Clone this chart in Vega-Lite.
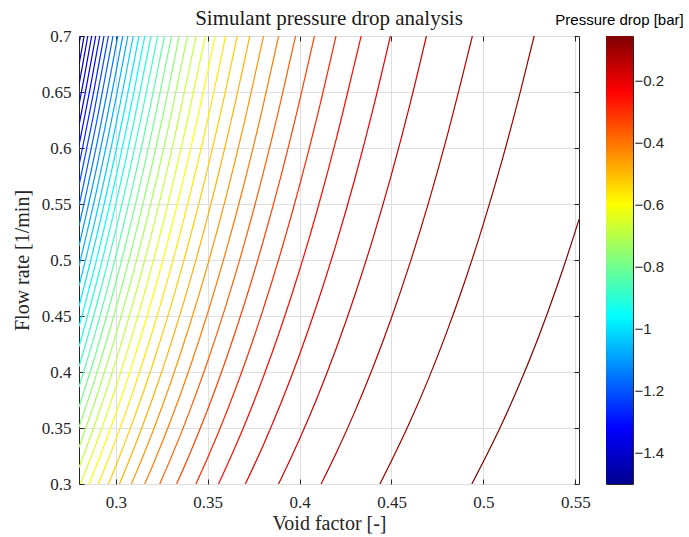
{
  "$schema": "https://vega.github.io/schema/vega-lite/v6.json",
  "autosize": {"type": "pad"},
  "padding": {"left": 11, "top": 7, "right": 4, "bottom": 1},
  "background": "white",
  "bounds": "flush",
  "spacing": 27,
  "config": {
    "view": {"stroke": "#262626", "strokeWidth": 1},
    "font": "Liberation Serif"
  },
  "hconcat": [
    {
      "width": 500,
      "height": 448,
      "title": {
        "text": "Simulant pressure drop analysis",
        "font": "Liberation Serif",
        "fontSize": 21,
        "fontWeight": "normal",
        "color": "#1a1a1a",
        "anchor": "middle",
        "frame": "group",
        "offset": -2
      },
      "data": {
        "values": [
          {"e":0.4937,"q":0.3,"p":-0.0575},{"e":0.50,"q":0.32,"p":-0.0575},{"e":0.51,"q":0.3536,"p":-0.0575},{"e":0.52,"q":0.3906,"p":-0.0575},{"e":0.53,"q":0.4313,"p":-0.0575},{"e":0.54,"q":0.4763,"p":-0.0575},{"e":0.55,"q":0.5258,"p":-0.0575},{"e":0.552,"q":0.5363,"p":-0.0575},
          {"e":0.4437,"q":0.3,"p":-0.0965},{"e":0.45,"q":0.3207,"p":-0.0965},{"e":0.46,"q":0.3553,"p":-0.0965},{"e":0.47,"q":0.3934,"p":-0.0965},{"e":0.48,"q":0.4354,"p":-0.0965},{"e":0.49,"q":0.4815,"p":-0.0965},{"e":0.50,"q":0.5323,"p":-0.0965},{"e":0.51,"q":0.5881,"p":-0.0965},{"e":0.52,"q":0.6496,"p":-0.0965},{"e":0.5276,"q":0.7,"p":-0.0965},
          {"e":0.4117,"q":0.3,"p":-0.1355},{"e":0.42,"q":0.3279,"p":-0.1355},{"e":0.43,"q":0.3644,"p":-0.1355},{"e":0.44,"q":0.4045,"p":-0.1355},{"e":0.45,"q":0.4485,"p":-0.1355},{"e":0.46,"q":0.4970,"p":-0.1355},{"e":0.47,"q":0.5503,"p":-0.1355},{"e":0.48,"q":0.6090,"p":-0.1355},{"e":0.49,"q":0.6735,"p":-0.1355},{"e":0.4940,"q":0.7,"p":-0.1355},
          {"e":0.3885,"q":0.3,"p":-0.1744},{"e":0.39,"q":0.3050,"p":-0.1744},{"e":0.40,"q":0.3402,"p":-0.1744},{"e":0.41,"q":0.3788,"p":-0.1744},{"e":0.42,"q":0.4214,"p":-0.1744},{"e":0.43,"q":0.4683,"p":-0.1744},{"e":0.44,"q":0.5198,"p":-0.1744},{"e":0.45,"q":0.5764,"p":-0.1744},{"e":0.46,"q":0.6387,"p":-0.1744},{"e":0.4690,"q":0.7,"p":-0.1744},
          {"e":0.3705,"q":0.3,"p":-0.2134},{"e":0.38,"q":0.3338,"p":-0.2134},{"e":0.39,"q":0.3727,"p":-0.2134},{"e":0.40,"q":0.4156,"p":-0.2134},{"e":0.41,"q":0.4629,"p":-0.2134},{"e":0.42,"q":0.5149,"p":-0.2134},{"e":0.43,"q":0.5721,"p":-0.2134},{"e":0.44,"q":0.6351,"p":-0.2134},{"e":0.4494,"q":0.7,"p":-0.2134},
          {"e":0.3559,"q":0.3,"p":-0.2524},{"e":0.36,"q":0.3147,"p":-0.2524},{"e":0.37,"q":0.3525,"p":-0.2524},{"e":0.38,"q":0.3944,"p":-0.2524},{"e":0.39,"q":0.4404,"p":-0.2524},{"e":0.40,"q":0.4911,"p":-0.2524},{"e":0.41,"q":0.5469,"p":-0.2524},{"e":0.42,"q":0.6084,"p":-0.2524},{"e":0.43,"q":0.6760,"p":-0.2524},{"e":0.4335,"q":0.7,"p":-0.2524},
          {"e":0.3436,"q":0.3,"p":-0.2914},{"e":0.35,"q":0.3234,"p":-0.2914},{"e":0.36,"q":0.3630,"p":-0.2914},{"e":0.37,"q":0.4067,"p":-0.2914},{"e":0.38,"q":0.4550,"p":-0.2914},{"e":0.39,"q":0.5081,"p":-0.2914},{"e":0.40,"q":0.5666,"p":-0.2914},{"e":0.41,"q":0.6310,"p":-0.2914},{"e":0.4198,"q":0.7,"p":-0.2914},
          {"e":0.3331,"q":0.3,"p":-0.3304},{"e":0.34,"q":0.3259,"p":-0.3304},{"e":0.35,"q":0.3665,"p":-0.3304},{"e":0.36,"q":0.4114,"p":-0.3304},{"e":0.37,"q":0.4609,"p":-0.3304},{"e":0.38,"q":0.5156,"p":-0.3304},{"e":0.39,"q":0.5757,"p":-0.3304},{"e":0.40,"q":0.6420,"p":-0.3304},{"e":0.4081,"q":0.7,"p":-0.3304},
          {"e":0.3239,"q":0.3,"p":-0.3693},{"e":0.33,"q":0.3231,"p":-0.3693},{"e":0.34,"q":0.3642,"p":-0.3693},{"e":0.35,"q":0.4096,"p":-0.3693},{"e":0.36,"q":0.4597,"p":-0.3693},{"e":0.37,"q":0.5151,"p":-0.3693},{"e":0.38,"q":0.5762,"p":-0.3693},{"e":0.39,"q":0.6434,"p":-0.3693},{"e":0.3978,"q":0.7,"p":-0.3693},
          {"e":0.3158,"q":0.3,"p":-0.4083},{"e":0.32,"q":0.3161,"p":-0.4083},{"e":0.33,"q":0.3571,"p":-0.4083},{"e":0.34,"q":0.4025,"p":-0.4083},{"e":0.35,"q":0.4527,"p":-0.4083},{"e":0.36,"q":0.5081,"p":-0.4083},{"e":0.37,"q":0.5692,"p":-0.4083},{"e":0.38,"q":0.6368,"p":-0.4083},{"e":0.3886,"q":0.7,"p":-0.4083},
          {"e":0.3085,"q":0.3,"p":-0.4473},{"e":0.31,"q":0.3057,"p":-0.4473},{"e":0.32,"q":0.3462,"p":-0.4473},{"e":0.33,"q":0.3911,"p":-0.4473},{"e":0.34,"q":0.4408,"p":-0.4473},{"e":0.35,"q":0.4957,"p":-0.4473},{"e":0.36,"q":0.5564,"p":-0.4473},{"e":0.37,"q":0.6234,"p":-0.4473},{"e":0.3804,"q":0.7,"p":-0.4473},
          {"e":0.3020,"q":0.3,"p":-0.4863},{"e":0.31,"q":0.3322,"p":-0.4863},{"e":0.32,"q":0.3763,"p":-0.4863},{"e":0.33,"q":0.4251,"p":-0.4863},{"e":0.34,"q":0.4791,"p":-0.4863},{"e":0.35,"q":0.5388,"p":-0.4863},{"e":0.36,"q":0.6048,"p":-0.4863},{"e":0.37,"q":0.6776,"p":-0.4863},{"e":0.3729,"q":0.7,"p":-0.4863},
          {"e":0.2960,"q":0.3,"p":-0.5253},{"e":0.30,"q":0.3160,"p":-0.5253},{"e":0.31,"q":0.3588,"p":-0.5253},{"e":0.32,"q":0.4063,"p":-0.5253},{"e":0.33,"q":0.4591,"p":-0.5253},{"e":0.34,"q":0.5174,"p":-0.5253},{"e":0.35,"q":0.5819,"p":-0.5253},{"e":0.36,"q":0.6531,"p":-0.5253},{"e":0.3661,"q":0.7,"p":-0.5253},
          {"e":0.2905,"q":0.3,"p":-0.5642},{"e":0.30,"q":0.3394,"p":-0.5642},{"e":0.31,"q":0.3854,"p":-0.5642},{"e":0.32,"q":0.4364,"p":-0.5642},{"e":0.33,"q":0.4930,"p":-0.5642},{"e":0.34,"q":0.5557,"p":-0.5642},{"e":0.35,"q":0.6250,"p":-0.5642},{"e":0.3598,"q":0.7,"p":-0.5642},
          {"e":0.2855,"q":0.3,"p":-0.6032},{"e":0.29,"q":0.3185,"p":-0.6032},{"e":0.30,"q":0.3627,"p":-0.6032},{"e":0.31,"q":0.4119,"p":-0.6032},{"e":0.32,"q":0.4665,"p":-0.6032},{"e":0.33,"q":0.5270,"p":-0.6032},{"e":0.34,"q":0.5940,"p":-0.6032},{"e":0.35,"q":0.6681,"p":-0.6032},{"e":0.3541,"q":0.7,"p":-0.6032},
          {"e":0.2808,"q":0.3,"p":-0.6422},{"e":0.29,"q":0.3390,"p":-0.6422},{"e":0.30,"q":0.3861,"p":-0.6422},{"e":0.31,"q":0.4385,"p":-0.6422},{"e":0.32,"q":0.4966,"p":-0.6422},{"e":0.33,"q":0.5610,"p":-0.6422},{"e":0.34,"q":0.6323,"p":-0.6422},{"e":0.3487,"q":0.7,"p":-0.6422},
          {"e":0.28,"q":0.3147,"p":-0.6812},{"e":0.29,"q":0.3596,"p":-0.6812},{"e":0.30,"q":0.4095,"p":-0.6812},{"e":0.31,"q":0.4651,"p":-0.6812},{"e":0.32,"q":0.5267,"p":-0.6812},{"e":0.33,"q":0.5950,"p":-0.6812},{"e":0.34,"q":0.6706,"p":-0.6812},{"e":0.3437,"q":0.7,"p":-0.6812},
          {"e":0.28,"q":0.3327,"p":-0.7202},{"e":0.29,"q":0.3801,"p":-0.7202},{"e":0.30,"q":0.4329,"p":-0.7202},{"e":0.31,"q":0.4916,"p":-0.7202},{"e":0.32,"q":0.5568,"p":-0.7202},{"e":0.33,"q":0.6290,"p":-0.7202},{"e":0.3390,"q":0.7,"p":-0.7202},
          {"e":0.28,"q":0.3507,"p":-0.7591},{"e":0.29,"q":0.4006,"p":-0.7591},{"e":0.30,"q":0.4563,"p":-0.7591},{"e":0.31,"q":0.5182,"p":-0.7591},{"e":0.32,"q":0.5868,"p":-0.7591},{"e":0.33,"q":0.6630,"p":-0.7591},{"e":0.3345,"q":0.7,"p":-0.7591},
          {"e":0.28,"q":0.3687,"p":-0.7981},{"e":0.29,"q":0.4212,"p":-0.7981},{"e":0.30,"q":0.4797,"p":-0.7981},{"e":0.31,"q":0.5447,"p":-0.7981},{"e":0.32,"q":0.6169,"p":-0.7981},{"e":0.33,"q":0.6969,"p":-0.7981},{"e":0.3304,"q":0.7,"p":-0.7981},
          {"e":0.28,"q":0.3866,"p":-0.8371},{"e":0.29,"q":0.4417,"p":-0.8371},{"e":0.30,"q":0.5031,"p":-0.8371},{"e":0.31,"q":0.5713,"p":-0.8371},{"e":0.32,"q":0.6470,"p":-0.8371},{"e":0.3265,"q":0.7,"p":-0.8371},
          {"e":0.28,"q":0.4046,"p":-0.8761},{"e":0.29,"q":0.4623,"p":-0.8761},{"e":0.30,"q":0.5265,"p":-0.8761},{"e":0.31,"q":0.5979,"p":-0.8761},{"e":0.32,"q":0.6771,"p":-0.8761},{"e":0.3228,"q":0.7,"p":-0.8761},
          {"e":0.28,"q":0.4226,"p":-0.9151},{"e":0.29,"q":0.4828,"p":-0.9151},{"e":0.30,"q":0.5499,"p":-0.9151},{"e":0.31,"q":0.6244,"p":-0.9151},{"e":0.3192,"q":0.7,"p":-0.9151},
          {"e":0.28,"q":0.4406,"p":-0.9540},{"e":0.29,"q":0.5033,"p":-0.9540},{"e":0.30,"q":0.5733,"p":-0.9540},{"e":0.31,"q":0.6510,"p":-0.9540},{"e":0.3158,"q":0.7,"p":-0.9540},
          {"e":0.28,"q":0.4585,"p":-0.9930},{"e":0.29,"q":0.5239,"p":-0.9930},{"e":0.30,"q":0.5967,"p":-0.9930},{"e":0.31,"q":0.6776,"p":-0.9930},{"e":0.3126,"q":0.7,"p":-0.9930},
          {"e":0.28,"q":0.4765,"p":-1.0320},{"e":0.29,"q":0.5444,"p":-1.0320},{"e":0.30,"q":0.6200,"p":-1.0320},{"e":0.3095,"q":0.7,"p":-1.0320},
          {"e":0.28,"q":0.4945,"p":-1.0710},{"e":0.29,"q":0.5650,"p":-1.0710},{"e":0.30,"q":0.6434,"p":-1.0710},{"e":0.3066,"q":0.7,"p":-1.0710},
          {"e":0.28,"q":0.5125,"p":-1.1100},{"e":0.29,"q":0.5855,"p":-1.1100},{"e":0.30,"q":0.6668,"p":-1.1100},{"e":0.3038,"q":0.7,"p":-1.1100},
          {"e":0.28,"q":0.5304,"p":-1.1489},{"e":0.29,"q":0.6060,"p":-1.1489},{"e":0.30,"q":0.6902,"p":-1.1489},{"e":0.3011,"q":0.7,"p":-1.1489},
          {"e":0.28,"q":0.5484,"p":-1.1879},{"e":0.29,"q":0.6266,"p":-1.1879},{"e":0.2985,"q":0.7,"p":-1.1879},
          {"e":0.28,"q":0.5664,"p":-1.2269},{"e":0.288,"q":0.6302,"p":-1.2269},{"e":0.2960,"q":0.7,"p":-1.2269},
          {"e":0.28,"q":0.5844,"p":-1.2659},{"e":0.288,"q":0.6502,"p":-1.2659},{"e":0.2936,"q":0.7,"p":-1.2659},
          {"e":0.28,"q":0.6023,"p":-1.3049},{"e":0.286,"q":0.6527,"p":-1.3049},{"e":0.2913,"q":0.7,"p":-1.3049},
          {"e":0.28,"q":0.6203,"p":-1.3438},{"e":0.284,"q":0.6545,"p":-1.3438},{"e":0.2891,"q":0.7,"p":-1.3438},
          {"e":0.28,"q":0.6383,"p":-1.3828},{"e":0.284,"q":0.6735,"p":-1.3828},{"e":0.2869,"q":0.7,"p":-1.3828},
          {"e":0.28,"q":0.6563,"p":-1.4218},{"e":0.2848,"q":0.7,"p":-1.4218},
          {"e":0.28,"q":0.6742,"p":-1.4608},{"e":0.2828,"q":0.7,"p":-1.4608},
          {"e":0.28,"q":0.6922,"p":-1.4998},{"e":0.2808,"q":0.7,"p":-1.4998}
        ]
      },
      "layer": [
        {
          "mark": {"type": "line", "interpolate": "monotone", "strokeWidth": 1.2, "clip": true},
          "encoding": {
            "x": {
              "field": "e", "type": "quantitative",
              "scale": {"domain": [0.28, 0.552], "nice": false, "zero": false},
              "axis": {
                "values": [0.3, 0.35, 0.4, 0.45, 0.5, 0.55],
                "format": ".2~f",
                "title": "Void factor [-]",
                "grid": true, "gridColor": "#dfdfdf", "gridWidth": 1,
                "domain": false,
                "ticks": true, "tickSize": -5, "tickColor": "#262626", "tickWidth": 1,
                "labelFont": "Liberation Serif", "labelFontSize": 17, "labelColor": "#262626",
                "labelPadding": 15, "labelFlush": false,
                "titleFont": "Liberation Serif", "titleFontSize": 20, "titleFontWeight": "normal",
                "titleColor": "#262626", "titlePadding": 3
              }
            },
            "y": {
              "field": "q", "type": "quantitative",
              "scale": {"domain": [0.3, 0.7], "nice": false, "zero": false},
              "axis": {
                "values": [0.3, 0.35, 0.4, 0.45, 0.5, 0.55, 0.6, 0.65, 0.7],
                "format": ".2~f",
                "title": "Flow rate [1/min]",
                "grid": true, "gridColor": "#dfdfdf", "gridWidth": 1,
                "domain": false,
                "ticks": true, "tickSize": -5, "tickColor": "#262626", "tickWidth": 1,
                "labelFont": "Liberation Serif", "labelFontSize": 17, "labelColor": "#262626",
                "labelPadding": 13, "labelFlush": false,
                "titleFont": "Liberation Serif", "titleFontSize": 20, "titleFontWeight": "normal",
                "titleColor": "#262626", "titlePadding": 9
              }
            },
            "detail": {"field": "p", "type": "nominal"},
            "color": {
              "field": "p", "type": "quantitative",
              "scale": {
                "domain": [-1.5, -1.3197, -0.9591, -0.5984, -0.2378, -0.0575],
                "range": ["#00008f", "#0000ff", "#00ffff", "#ffff00", "#ff0000", "#800000"],
                "interpolate": "rgb"
              },
              "legend": null
            }
          }
        },
        {
          "mark": {"type": "point", "opacity": 0},
          "encoding": {
            "x": {
              "field": "e", "type": "quantitative",
              "axis": {
                "orient": "top", "values": [0.3, 0.35, 0.4, 0.45, 0.5, 0.55],
                "labels": false, "grid": false, "domain": false, "title": null,
                "ticks": true, "tickSize": -5, "tickColor": "#262626", "tickWidth": 1
              }
            },
            "y": {
              "field": "q", "type": "quantitative",
              "axis": {
                "orient": "right", "values": [0.3, 0.35, 0.4, 0.45, 0.5, 0.55, 0.6, 0.65, 0.7],
                "labels": false, "grid": false, "domain": false, "title": null,
                "ticks": true, "tickSize": -5, "tickColor": "#262626", "tickWidth": 1
              }
            }
          }
        }
      ],
      "resolve": {"axis": {"x": "independent", "y": "independent"}}
    },
    {
      "width": 27,
      "height": 448,
      "title": {
        "text": "Pressure drop [bar]",
        "font": "Liberation Sans",
        "fontSize": 15,
        "fontWeight": "normal",
        "color": "#000000",
        "anchor": "middle",
        "frame": "group",
        "offset": 8
      },
      "data": {"values": [{"lo": -1.5, "hi": -0.0575}]},
      "mark": {
        "type": "rect",
        "color": {
          "gradient": "linear",
          "x1": 0, "y1": 1, "x2": 0, "y2": 0,
          "stops": [
            {"offset": 0, "color": "#00008f"},
            {"offset": 0.125, "color": "#0000ff"},
            {"offset": 0.375, "color": "#00ffff"},
            {"offset": 0.625, "color": "#ffff00"},
            {"offset": 0.875, "color": "#ff0000"},
            {"offset": 1, "color": "#800000"}
          ]
        }
      },
      "encoding": {
        "y": {
          "field": "lo", "type": "quantitative",
          "scale": {"domain": [-1.5, -0.0575], "nice": false, "zero": false},
          "axis": {
            "orient": "right",
            "values": [-1.4, -1.2, -1, -0.8, -0.6, -0.4, -0.2],
            "labelExpr": "'\u2212' + format(abs(datum.value), '.1~f')",
            "title": null,
            "grid": false, "domain": false,
            "ticks": true, "tickSize": -4, "tickColor": "#262626", "tickWidth": 1,
            "labelFont": "Liberation Sans", "labelFontSize": 15, "labelColor": "#262626",
            "labelPadding": 5, "labelFlush": false
          }
        },
        "y2": {"field": "hi"}
      }
    }
  ]
}
